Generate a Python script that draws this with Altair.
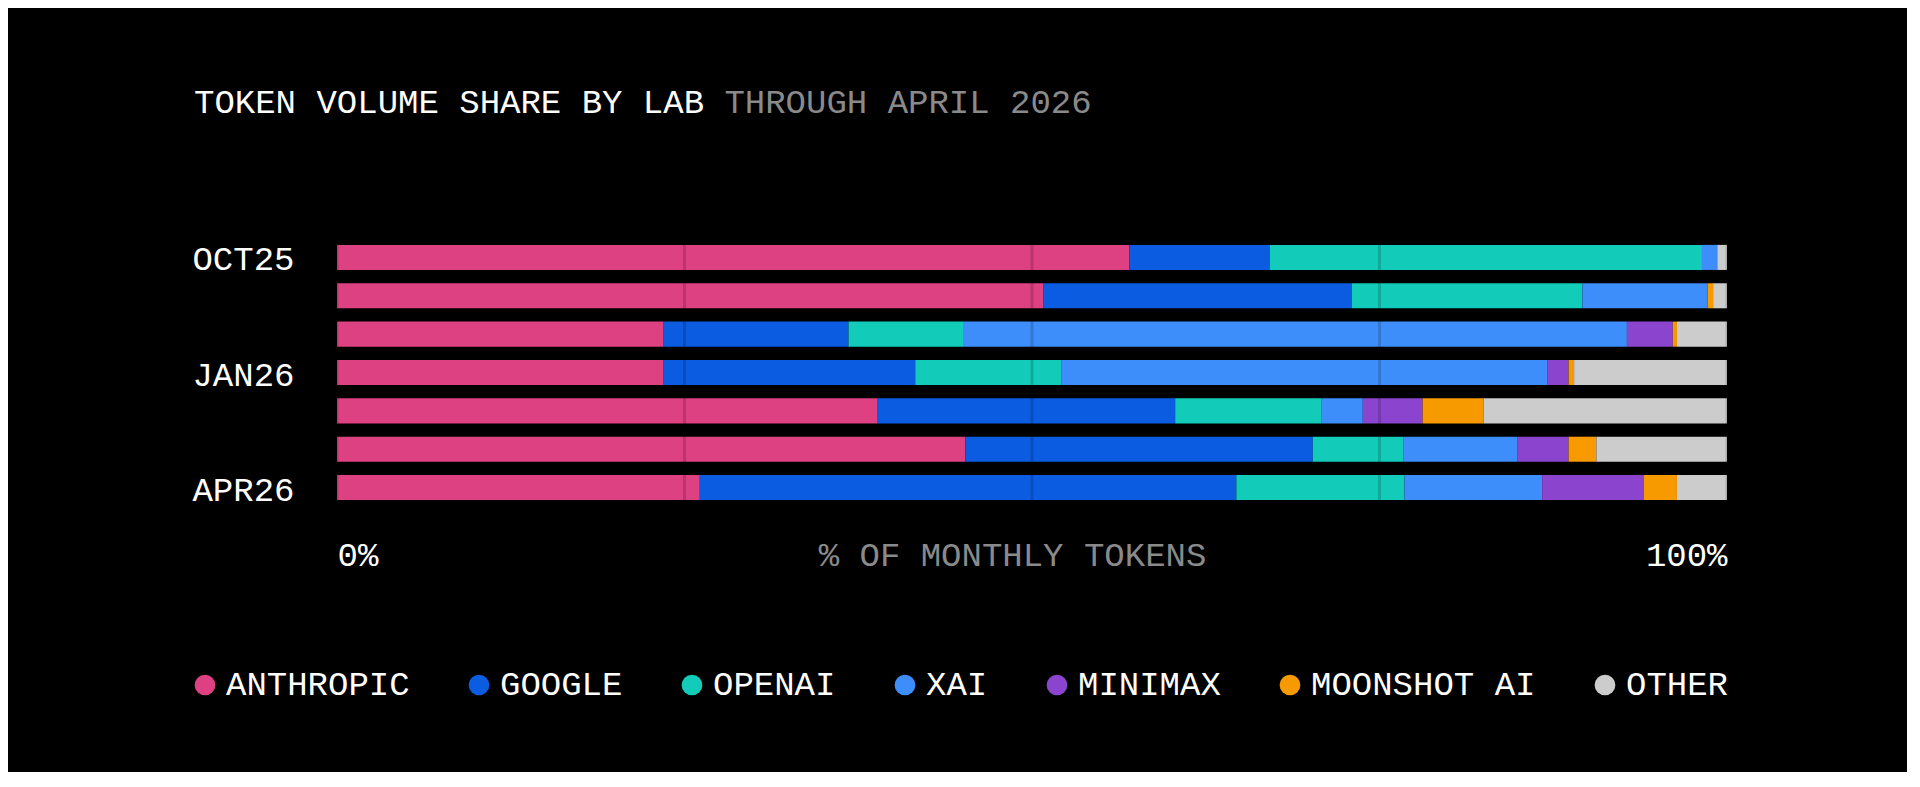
import altair as alt
import pandas as pd

months = ["OCT25", "NOV25", "DEC25", "JAN26", "FEB26", "MAR26", "APR26"]
labeled_months = ["OCT25", "JAN26", "APR26"]
labs = ["ANTHROPIC", "GOOGLE", "OPENAI", "XAI", "MINIMAX", "MOONSHOT AI", "OTHER"]
colors = ["#DD4182", "#0B5CE0", "#13CBB9", "#3D8EFA", "#8B44CE", "#F79A00", "#CCCCCC"]

anthropic = [57.0, 50.8, 23.5, 23.5, 38.9, 45.2, 26.1]
google = [10.1, 22.2, 13.3, 18.1, 21.4, 25.0, 38.6]
openai = [31.1, 16.6, 8.3, 10.5, 10.5, 6.5, 12.1]
xai = [1.1, 9.0, 47.7, 35.0, 3.0, 8.2, 9.9]
minimax = [0.0, 0.0, 3.3, 1.5, 4.3, 3.7, 7.3]
moonshot = [0.0, 0.4, 0.3, 0.4, 4.4, 2.0, 2.4]
other = [0.7, 1.0, 3.6, 11.0, 17.5, 9.4, 3.6]

grid_values = [0, 25, 50, 75, 100]
axis_values = [0, 100]

title_main = "TOKEN VOLUME SHARE BY LAB"
title_sub = "THROUGH APRIL 2026"
axis_title = "% OF MONTHLY TOKENS"

series = [anthropic, google, openai, xai, minimax, moonshot, other]
rows = []
for i, m in enumerate(months):
    for j, lab in enumerate(labs):
        rows.append({"month": m, "lab": lab, "rank": j, "share": series[j][i]})
df = pd.DataFrame(rows)
grid_df = pd.DataFrame({"pct": grid_values})
main_df = pd.DataFrame({"t": [title_main]})
sub_df = pd.DataFrame({"t": [title_sub]})

FONT = "Liberation Mono"
FS = 34
CHAR_W = FS * 0.6
TITLE_X = -143
TITLE_Y = -120

bars = alt.Chart(df).mark_bar().encode(
    x=alt.X(
        "share:Q",
        stack="zero",
        scale=alt.Scale(domain=[0, 100], nice=False),
        axis=alt.Axis(
            values=axis_values,
            labelExpr="datum.value + '%'",
            labelFlush=True,
            labelFlushOffset=0,
            domain=False,
            ticks=False,
            grid=False,
            labelColor="#FFFFFF",
            labelFont=FONT,
            labelFontSize=FS,
            labelPadding=43,
            labelBaseline="middle",
            title=axis_title,
            titleColor="#8A8A8A",
            titleFont=FONT,
            titleFontSize=FS,
            titleFontWeight="normal",
            titleX=675,
            titleY=43,
            titleBaseline="middle",
            titleAlign="center",
        ),
    ),
    y=alt.Y(
        "month:N",
        sort=months,
        scale=alt.Scale(paddingInner=0.347, paddingOuter=0.31),
        axis=alt.Axis(
            values=labeled_months,
            domain=False,
            ticks=False,
            grid=False,
            labelColor="#FFFFFF",
            labelFont=FONT,
            labelFontSize=FS,
            labelPadding=43,
            labelAlign="right",
            labelBaseline="middle",
            labelOffset=3,
            title=None,
        ),
    ),
    color=alt.Color(
        "lab:N",
        scale=alt.Scale(domain=labs, range=colors),
        legend=alt.Legend(
            orient="none",
            legendX=-149,
            legendY=435,
            direction="horizontal",
            columns=7,
            title=None,
            symbolType="circle",
            symbolSize=430,
            symbolStrokeWidth=0,
            symbolOpacity=1,
            labelOffset=4,
            labelColor="#FFFFFF",
            labelFont=FONT,
            labelFontSize=FS,
            labelLimit=0,
            columnPadding=52,
        ),
    ),
    order=alt.Order("rank:Q"),
)

grid = alt.Chart(grid_df).mark_rule(color="#000000", opacity=0.16, strokeWidth=3).encode(
    x=alt.X("pct:Q", title=axis_title)
)

main_title = alt.Chart(main_df).mark_text(
    font=FONT, fontSize=FS, color="#FFFFFF", align="left", baseline="alphabetic"
).encode(
    text="t:N",
    x=alt.value(TITLE_X),
    y=alt.value(TITLE_Y),
)

sub_title = alt.Chart(sub_df).mark_text(
    font=FONT, fontSize=FS, color="#8A8A8A", align="left", baseline="alphabetic"
).encode(
    text="t:N",
    x=alt.value(TITLE_X + (len(title_main) + 1) * CHAR_W),
    y=alt.value(TITLE_Y),
)

chart = alt.layer(bars, grid, main_title, sub_title).properties(
    width=1390,
    height=279,
    autosize=alt.AutoSizeParams(type="none"),
    padding={"left": 329, "top": 225, "right": 180, "bottom": 260},
    background="#000000",
).configure_view(stroke=None)

chart.save("out.html", embed_options={"renderer": "svg", "actions": False})
